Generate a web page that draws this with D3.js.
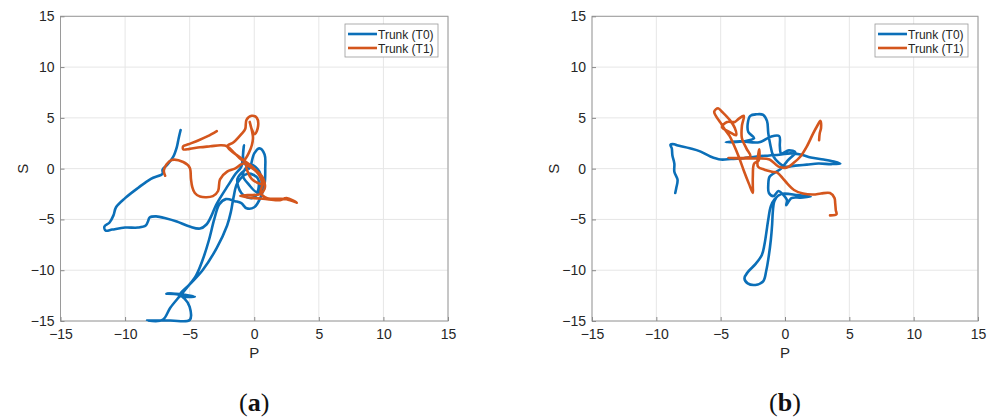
<!DOCTYPE html>
<html><head><meta charset="utf-8">
<script src="https://cdn.jsdelivr.net/npm/d3@7"></script>
<style>body{margin:0;background:#fff}svg{display:block}</style>
</head><body>
<svg id="c" width="994" height="419"></svg>
<script>
const tickValues = [-15, -10, -5, 0, 5, 10, 15];
const seriesNames = ["Trunk (T0)", "Trunk (T1)"];
const seriesColors = ["#0b6fb8", "#d4561d"];
const panelCaptions = ["a", "b"];

// Panel (a) — trunk sway path, P (x) vs S (y)
const panelA_T0 = [
 [-5.7,3.8],[-5.85,3.0],[-6.0,2.1],[-6.3,1.1],[-6.8,0.3],[-7.1,-0.1],[-7.1,-0.5],[-8.0,-1.0],[-9.0,-1.9],
 [-10.0,-2.9],[-10.7,-3.8],[-10.9,-4.6],[-11.2,-5.3],[-11.6,-5.7],[-11.5,-6.1],[-11.0,-6.0],[-10.0,-5.8],
 [-9.0,-5.8],[-8.4,-5.6],[-8.2,-5.1],[-8.1,-4.8],[-7.6,-4.7],[-6.8,-4.9],[-6.0,-5.2],[-5.0,-5.7],[-4.2,-5.9],
 [-3.7,-5.5],[-3.3,-4.6],[-3.0,-3.7],[-2.6,-2.8],[-2.0,-1.6],[-1.5,-0.6],[-1.0,0.2],[-0.9,1.0],[-0.8,2.3],
 [-0.85,1.0],[-0.4,0.0],[0.0,1.5],[0.4,2.0],[0.8,1.4],[0.85,0.0],[0.8,-1.5],[0.5,-2.8],[0.0,-3.8],[-0.6,-3.9],
 [-1.0,-3.4],[-1.5,-3.2],[-2.2,-3.0],[-2.7,-3.5],[-3.1,-5.0],[-3.5,-7.0],[-4.0,-9.0],[-4.5,-10.5],[-5.2,-11.7],
 [-5.8,-12.6],[-6.5,-13.7],[-7.1,-14.9],[-8.3,-14.95],[-6.5,-14.95],[-5.0,-14.9],[-5.0,-13.6],[-5.4,-12.8],
 [-5.9,-12.4],[-6.8,-12.3],[-5.8,-12.35],[-4.6,-12.6],[-5.8,-12.5],[-5.0,-11.4],[-4.0,-10.0],[-2.9,-7.8],
 [-2.1,-5.6],[-1.8,-4.2],[-1.6,-2.8],[-1.3,-1.4],[-0.5,-0.5],[0.3,-1.0],[0.2,-2.3],[-0.4,-1.6],
 [-0.9,-0.6],[-0.3,0.4],[0.4,-0.3],[0.5,-2.0],[-0.2,-2.9],[-1.0,-2.4],[-1.3,-1.0],[-0.7,-0.1]
];
const panelA_T1 = [
 [-6.9,-0.7],[-7.0,-0.2],[-6.8,0.4],[-6.4,0.85],[-5.5,0.65],[-5.0,0.1],[-4.9,-1.0],[-4.8,-1.8],[-4.6,-2.4],
 [-4.2,-2.75],[-3.2,-2.7],[-2.8,-2.2],[-2.65,-1.05],[-2.1,-0.3],[-1.5,0.0],[-0.8,0.5],[0.3,-0.5],[0.6,-1.5],
 [-0.2,-1.0],[-0.6,0.3],[0.2,-0.3],[0.7,-1.0],[0.8,-2.0],[0.45,-2.5],[-0.5,-2.6],[-1.1,-2.7],[0.0,-2.9],
 [1.0,-3.0],[2.0,-3.1],[2.5,-2.9],[3.3,-3.35],[2.5,-3.0],[1.0,-2.9],[0.5,-2.4],[0.7,-1.0],[0.0,0.0],
 [-1.0,1.0],[-2.1,2.2],[-1.6,2.6],[-1.0,3.4],[-0.7,3.9],[-0.6,4.8],[-0.2,5.2],[0.2,5.0],[0.3,4.2],[0.05,3.4],
 [-0.2,3.9],[-0.35,4.6],[-0.1,3.0],[-0.4,1.6],[-0.85,0.8],[-1.5,1.5],[-2.1,2.2],[-2.6,2.3],[-3.4,2.2],
 [-4.2,2.1],[-5.0,1.95],[-5.5,1.9],[-5.5,2.2],[-5.1,2.4],[-4.3,2.8],[-3.6,3.2],[-2.9,3.7]
];

// Panel (b)
const panelB_T0 = [
 [-8.53,-2.4],[-8.45,-1.9],[-8.35,-1.1],[-8.6,-0.3],[-8.6,0.5],[-8.75,1.3],[-8.8,2.0],[-8.9,2.35],[-8.6,2.4],
 [-8.4,2.3],[-7.4,2.0],[-6.6,1.7],[-5.8,1.2],[-5.0,0.9],[-4.2,0.95],[-3.5,1.0],[-2.2,1.2],[-1.2,1.3],[-0.3,1.4],
 [0.4,1.5],[1.2,1.4],[2.0,1.1],[3.0,0.9],[3.8,0.7],[4.3,0.5],[3.6,0.45],[2.6,0.5],[1.7,0.4],[0.8,0.3],[0.0,0.2],
 [-0.5,0.6],[-0.9,1.2],[-1.15,2.4],[-1.3,3.5],[-1.4,4.7],[-1.7,5.3],[-2.2,5.35],[-2.7,5.2],[-2.9,4.4],[-2.85,3.6],
 [-2.4,3.0],[-3.2,2.7],[-4.6,2.6],[-3.5,2.7],[-2.0,2.6],[-1.1,3.15],[-0.45,3.2],[-0.4,2.2],[-0.3,1.5],[0.3,1.8],
 [0.8,1.6],[0.2,0.8],[-0.3,0.0],[-0.8,-0.4],[-1.2,-0.8],[-1.3,-1.6],[-1.25,-2.4],[-0.9,-2.7],[-0.5,-2.2],
 [-0.2,-2.5],[0.15,-3.1],[0.1,-3.6],[0.5,-2.9],[1.2,-2.85],[2.0,-2.75],[1.0,-2.6],[-0.3,-2.5],[-0.8,-3.0],
 [-1.1,-3.7],[-1.3,-5.0],[-1.45,-6.3],[-1.6,-7.5],[-1.8,-8.5],[-2.3,-9.4],[-2.9,-10.2],[-3.15,-10.8],[-2.9,-11.3],
 [-2.3,-11.45],[-1.7,-11.1],[-1.45,-10.0],[-1.25,-8.5],[-1.1,-7.0],[-1.0,-5.5],[-0.95,-4.3],[-0.85,-3.3],[-0.7,-2.9]
];
const panelB_T1 = [
 [3.5,-4.6],[4.0,-4.5],[3.95,-4.1],[3.9,-3.4],[3.85,-2.9],[3.5,-2.4],[2.8,-2.45],[2.2,-2.55],[1.4,-2.45],
 [0.7,-2.1],[0.2,-1.5],[-0.2,-0.9],[-0.6,-0.4],[-1.0,-0.3],[-1.6,-0.1],[-2.1,0.2],[-2.1,1.2],[-2.0,1.9],
 [-2.05,0.8],[-2.4,0.5],[-2.5,-0.8],[-2.5,-1.8],[-2.5,-2.4],[-2.8,-1.5],[-3.2,-0.2],[-3.6,1.2],[-4.0,2.4],
 [-4.3,3.2],[-4.7,3.9],[-5.0,4.5],[-5.5,5.6],[-5.2,5.95],[-4.9,5.6],[-4.3,4.8],[-3.9,4.0],[-3.8,3.3],
 [-4.3,3.6],[-4.9,4.1],[-4.5,4.6],[-3.9,4.6],[-3.6,4.9],[-3.2,5.2],[-3.35,4.2],[-3.35,3.0],[-3.0,2.0],
 [-2.7,1.2],[-4.4,1.05],[-3.0,1.0],[-2.0,1.0],[-1.2,0.9],[-0.5,0.2],[0.1,0.1],[0.7,0.6],[1.2,1.2],[1.7,2.2],
 [2.2,3.5],[2.5,4.2],[2.75,4.7],[2.8,4.0],[2.7,3.5],[2.65,2.8]
];

const panels = [
  {x0: 60.5, x1: 448, data: [panelA_T0, panelA_T1], cap: panelCaptions[0]},
  {x0: 592, x1: 978, data: [panelB_T0, panelB_T1], cap: panelCaptions[1]}
];
const yTop = 16.3, yBot = 321;
const svg = d3.select("#c");
svg.append("rect").attr("width", 994).attr("height", 419).attr("fill", "#fff");
const font = "'Liberation Sans', Arial, Helvetica, sans-serif";

panels.forEach((p, i) => {
  const x = d3.scaleLinear().domain([-15, 15]).range([p.x0, p.x1]);
  const y = d3.scaleLinear().domain([-15, 15]).range([yBot, yTop]);
  const g = svg.append("g");
  g.selectAll(".gx").data(tickValues).join("line")
    .attr("x1", d => x(d)).attr("x2", d => x(d)).attr("y1", yTop).attr("y2", yBot)
    .attr("stroke", "#e6e6e6").attr("stroke-width", 1);
  g.selectAll(".gy").data(tickValues).join("line")
    .attr("y1", d => y(d)).attr("y2", d => y(d)).attr("x1", p.x0).attr("x2", p.x1)
    .attr("stroke", "#e6e6e6").attr("stroke-width", 1);
  g.append("rect").attr("x", p.x0).attr("y", yTop).attr("width", p.x1 - p.x0).attr("height", yBot - yTop)
    .attr("fill", "none").attr("stroke", "#9a9a9a").attr("stroke-width", 1);
  const ax = g.append("g").attr("transform", `translate(0,${yBot})`)
    .call(d3.axisBottom(x).tickValues(tickValues).tickSizeInner(-4).tickSizeOuter(0).tickPadding(8));
  const ay = g.append("g").attr("transform", `translate(${p.x0},0)`)
    .call(d3.axisLeft(y).tickValues(tickValues).tickSizeInner(-4).tickSizeOuter(0).tickPadding(6));
  [ax, ay].forEach(a => {
    a.select(".domain").remove();
    a.selectAll("line").attr("stroke", "#8a8a8a");
    a.selectAll("text").attr("font-family", font).attr("font-size", 14).attr("fill", "#262626");
  });
  g.append("text").attr("x", x(0)).attr("y", 358).attr("text-anchor", "middle")
    .attr("font-family", font).attr("font-size", 15).attr("fill", "#262626").text("P");
  g.append("text").attr("transform", `translate(${p.x0 - 33},${y(0)}) rotate(-90)`)
    .attr("text-anchor", "middle").attr("font-family", font).attr("font-size", 15).attr("fill", "#262626").text("S");
  const cid = "clip" + i;
  svg.append("clipPath").attr("id", cid).append("rect")
    .attr("x", p.x0).attr("y", yTop - 2).attr("width", p.x1 - p.x0).attr("height", yBot - yTop + 4);
  const line = d3.line().x(d => x(d[0])).y(d => y(d[1])).curve(d3.curveCatmullRom.alpha(0.5));
  p.data.forEach((ser, k) => {
    g.append("path").datum(ser).attr("d", line).attr("clip-path", `url(#${cid})`)
      .attr("fill", "none").attr("stroke", seriesColors[k]).attr("stroke-width", 2.6)
      .attr("stroke-linejoin", "round").attr("stroke-linecap", "round");
  });
  const lx = p.x1 - 103, ly = 24;
  const lg = g.append("g");
  lg.append("rect").attr("x", lx).attr("y", ly).attr("width", 93).attr("height", 33)
    .attr("fill", "#fff").attr("stroke", "#9a9a9a").attr("stroke-width", 0.8);
  seriesNames.forEach((nm, k) => {
    const yy = ly + 10 + k * 14;
    lg.append("line").attr("x1", lx + 3).attr("x2", lx + 32).attr("y1", yy).attr("y2", yy)
      .attr("stroke", seriesColors[k]).attr("stroke-width", 2.6);
    lg.append("text").attr("x", lx + 33).attr("y", yy + 4.5).attr("font-family", font)
      .attr("font-size", 12).attr("fill", "#262626").text(nm);
  });
  const cap = g.append("text").attr("x", x(0)).attr("y", 411).attr("text-anchor", "middle")
    .attr("font-family", "'Liberation Serif', 'DejaVu Serif', serif").attr("font-size", 26).attr("fill", "#111");
  cap.append("tspan").text("(");
  cap.append("tspan").attr("font-weight", "bold").text(p.cap);
  cap.append("tspan").text(")");
});
</script>
</body></html>
